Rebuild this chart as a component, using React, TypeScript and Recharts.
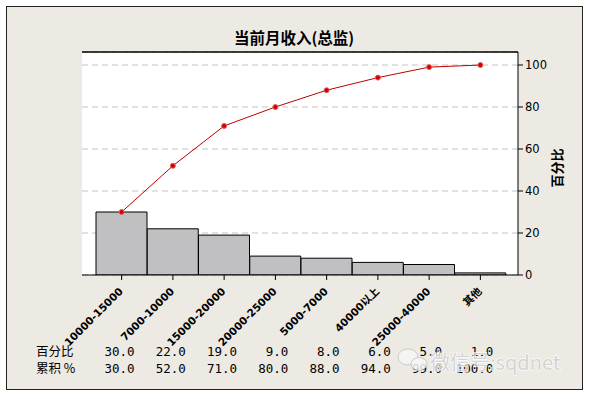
import React from "react";
import {
  ComposedChart,
  Bar,
  Line,
  XAxis,
  YAxis,
  CartesianGrid,
  ReferenceLine,
} from "recharts";

const categories = [
  "10000-15000",
  "7000-10000",
  "15000-20000",
  "20000-25000",
  "5000-7000",
  "40000以上",
  "25000-40000",
  "其他",
];
const percent = [30, 22, 19, 9, 8, 6, 5, 1];
const cumulative = [30, 52, 71, 80, 88, 94, 99, 100];
const yTicks = [0, 20, 40, 60, 80, 100];
const yMax = 106.2;

const data = categories.map((c, i) => ({
  cat: c,
  pct: percent[i],
  cum: cumulative[i],
}));

const XTick = (props: any) => {
  const { x, y, payload, index } = props;
  const px = x + 2;
  const py = y + 10;
  return (
    <g>
      <text
        x={px}
        y={py}
        transform={`rotate(-45, ${px}, ${py})`}
        textAnchor="end"
        fontFamily="'DejaVu Sans', 'Noto Sans CJK SC'"
        fontWeight="bold"
        fontSize={10.5}
        fill="#000"
      >
        {payload.value}
      </text>
      <text
        x={x + 13}
        y={y + 74}
        textAnchor="end"
        fontFamily="'DejaVu Sans Mono'"
        fontSize={12.5}
        fill="#000"
      >
        {percent[index].toFixed(1)}
      </text>
      <text
        x={x + 13}
        y={y + 91}
        textAnchor="end"
        fontFamily="'DejaVu Sans Mono'"
        fontSize={12.5}
        fill="#000"
      >
        {cumulative[index].toFixed(1)}
      </text>
    </g>
  );
};

export default function App() {
  return (
    <div
      style={{
        position: "absolute",
        left: 0,
        top: 0,
        width: 589,
        height: 399,
        background: "#fff",
      }}
    >
      <div
        style={{
          position: "absolute",
          left: 6,
          top: 6,
          width: 575,
          height: 382,
          border: "1px solid #222",
          background: "#ECEAE3",
        }}
      />
      <div style={{ position: "absolute", left: 0, top: 0 }}>
        <ComposedChart
          width={589}
          height={399}
          data={data}
          margin={{ top: 52, left: 82, right: 31, bottom: 94 }}
          barCategoryGap={0}
        >
          <CartesianGrid
            vertical={false}
            fill="#ffffff"
            stroke="#c4c4c4"
            strokeDasharray="6 4"
          />
          <XAxis
            dataKey="cat"
            interval={0}
            height={30}
            tickSize={5}
            tickMargin={2}
            padding={{ left: 14, right: 12 }}
            axisLine={{ stroke: "#000" }}
            tickLine={{ stroke: "#000" }}
            tick={<XTick />}
          />
          <YAxis
            orientation="right"
            width={40}
            domain={[0, yMax]}
            ticks={yTicks}
            allowDataOverflow
            tickSize={5}
            tickMargin={2}
            axisLine={{ stroke: "#000" }}
            tickLine={{ stroke: "#000" }}
            tick={{
              fill: "#000",
              fontSize: 11.5,
              fontFamily: "'DejaVu Sans'",
            }}
          />
          <ReferenceLine y={yMax} stroke="#000" strokeWidth={1.5} />
          <Bar
            dataKey="pct"
            fill="#C0BFC1"
            stroke="#000"
            strokeWidth={1}
            isAnimationActive={false}
          />
          <Line
            type="linear"
            dataKey="cum"
            stroke="#C00000"
            strokeWidth={1}
            dot={{ r: 2.5, fill: "#D00000", stroke: "#E06060", strokeWidth: 1 }}
            isAnimationActive={false}
          />
        </ComposedChart>
      </div>
      <svg
        width={589}
        height={399}
        style={{ position: "absolute", left: 0, top: 0, pointerEvents: "none" }}
      >
        <text
          x={294}
          y={44}
          textAnchor="middle"
          fontFamily="'Noto Sans CJK SC'"
          fontWeight="bold"
          fontSize={15.5}
          fill="#000"
        >
          当前月收入(总监)
        </text>
        <text
          transform="translate(556,168) rotate(-90)"
          textAnchor="middle"
          dominantBaseline="central"
          fontFamily="'Noto Sans CJK SC'"
          fontWeight="bold"
          fontSize={13}
          fill="#000"
        >
          百分比
        </text>
        <text x={36} y={356} fontFamily="'Noto Sans CJK SC'" fontSize={12.5} fill="#000">
          百分比
        </text>
        <text x={36} y={373} fontFamily="'Noto Sans CJK SC'" fontSize={12.5} fill="#000">
          累积 %
        </text>
        <g opacity={0.85}>
          <ellipse cx={408} cy={357} rx={10} ry={8} fill="#f6f6f6" stroke="#c6c6c6" strokeWidth={1} />
          <ellipse cx={419} cy={364} rx={8} ry={6.5} fill="#f6f6f6" stroke="#c6c6c6" strokeWidth={1} />
          <text
            x={430}
            y={370}
            fontFamily="'Noto Sans CJK SC'"
            fontSize={20}
            fill="#d0d0d0"
            stroke="#ffffff"
            strokeWidth={1.5}
            paintOrder="stroke"
          >
            微信号:sqdnet
          </text>
        </g>
      </svg>
    </div>
  );
}
